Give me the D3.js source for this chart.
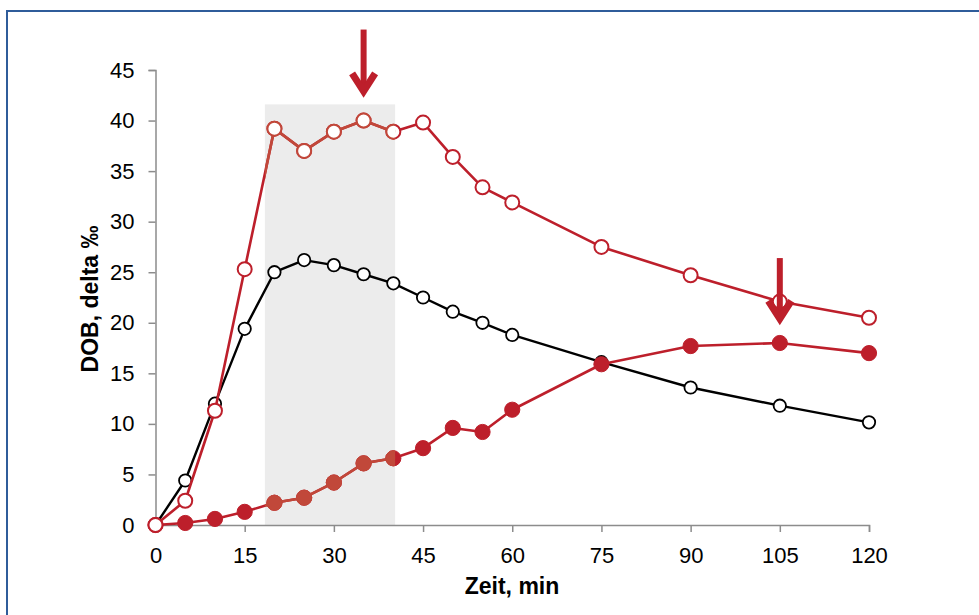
<!DOCTYPE html>
<html>
<head>
<meta charset="utf-8">
<script src="https://cdn.jsdelivr.net/npm/d3@7"></script>
<style>
  html, body { margin: 0; padding: 0; background: #fff; }
  svg { display: block; font-family: "Liberation Sans", Arial, sans-serif; }
</style>
</head>
<body>
<svg id="chart" width="979" height="615"></svg>
<script>
// ---- data ----
const times = [0, 5, 10, 15, 20, 25, 30, 35, 40, 45, 50, 55, 60, 75, 90, 105, 120];
const blackOpen = [0, 4.4, 12.0, 19.4, 25.0, 26.2, 25.7, 24.8, 23.9, 22.5, 21.1, 20.0, 18.8, 16.1, 13.6, 11.8, 10.15];
const redOpen = [0, 2.4, 11.3, 25.3, 39.2, 37.0, 38.9, 40.0, 38.9, 39.8, 36.4, 33.4, 31.9, 27.5, 24.7, 22.1, 20.5];
const redFilled = [0, 0.2, 0.6, 1.3, 2.2, 2.7, 4.2, 6.1, 6.6, 7.6, 9.6, 9.2, 11.4, 15.9, 17.7, 18.0, 17.0];
const xTicks = [0, 15, 30, 45, 60, 75, 90, 105, 120];
const yTicks = [0, 5, 10, 15, 20, 25, 30, 35, 40, 45];
const windowX = [18.4, 40.3];
const windowTop = 41.6;
const arrows = [ {x: 35, y0: 49.0, y1: 42.3}, {x: 105, y0: 26.4, y1: 19.8} ];
const xTitle = "Zeit, min";
const yTitle = "DOB, delta ‰";

// ---- layout ----
const svg = d3.select("#chart");
const RED = "#bd1f2b", RED_W = "#c1483a";

// frame
svg.append("rect").attr("x", 7).attr("y", 11).attr("width", 1100).attr("height", 800)
  .attr("fill", "none").attr("stroke", "#2f5c9a").attr("stroke-width", 2);

const x = d3.scaleLinear().domain([0, 120]).range([155.5, 869]);
const y = d3.scaleLinear().domain([0, 45]).range([525, 70]);

// grey window
svg.append("rect")
  .attr("x", x(windowX[0])).attr("y", y(windowTop))
  .attr("width", x(windowX[1]) - x(windowX[0])).attr("height", y(0) - y(windowTop))
  .attr("fill", "#ececec");

svg.append("clipPath").attr("id", "win").append("rect")
  .attr("x", x(windowX[0])).attr("y", y(windowTop))
  .attr("width", x(windowX[1]) - x(windowX[0])).attr("height", y(0) - y(windowTop) + 10);

// axes
const xAxis = svg.append("g").attr("transform", `translate(0,${y(0)})`)
  .call(d3.axisBottom(x).tickValues(xTicks).tickSize(7).tickPadding(10));
const yAxis = svg.append("g").attr("transform", `translate(${x(0)},0)`)
  .call(d3.axisLeft(y).tickValues(yTicks).tickSize(7).tickPadding(14));
[xAxis, yAxis].forEach(g => {
  g.select(".domain").attr("stroke", "#8c8c8c").attr("stroke-width", 1.5);
  g.selectAll(".tick line").attr("stroke", "#8c8c8c").attr("stroke-width", 1.5);
  g.selectAll(".tick text").attr("fill", "#000").attr("font-size", 22)
    .attr("font-family", "'Liberation Sans', Arial, sans-serif");
});
xAxis.selectAll(".tick text").attr("dy", "0.95em");

// titles
svg.append("text").attr("x", 512).attr("y", 594).attr("text-anchor", "middle")
  .attr("font-weight", "bold").attr("font-size", 23).text(xTitle);
svg.append("text").attr("transform", `translate(98,299) rotate(-90)`)
  .attr("text-anchor", "middle").attr("font-weight", "bold").attr("font-size", 23).text(yTitle);

const line = d3.line().x(d => x(d[0])).y(d => y(d[1]));
const pts = vals => times.map((t, i) => [t, vals[i]]);

function drawSeries(g, vals, color, width, r, filled, sw) {
  const data = pts(vals);
  g.append("path").datum(data).attr("d", line)
    .attr("fill", "none").attr("stroke", color).attr("stroke-width", width).attr("stroke-linejoin", "round");
  g.selectAll("circle.m").data(data).join("circle").attr("class", "m")
    .attr("cx", d => x(d[0])).attr("cy", d => y(d[1])).attr("r", r)
    .attr("fill", filled ? color : "#fff").attr("stroke", color).attr("stroke-width", sw);
}

// black open
drawSeries(svg.append("g"), blackOpen, "#000", 2.4, 6.2, false, 1.8);
// red filled
drawSeries(svg.append("g"), redFilled, RED, 2.6, 7.6, true, 1);
drawSeries(svg.append("g").attr("clip-path", "url(#win)"), redFilled, RED_W, 2.6, 7.6, true, 1);
// red open
drawSeries(svg.append("g"), redOpen, RED, 2.6, 7, false, 2);
drawSeries(svg.append("g").attr("clip-path", "url(#win)"), redOpen, RED_W, 2.6, 7, false, 2);

// arrows
arrows.forEach(a => {
  const xs = x(a.x), yt = y(a.y0), yb = y(a.y1);
  svg.append("line").attr("x1", xs).attr("x2", xs).attr("y1", yt).attr("y2", yb - 6)
    .attr("stroke", RED).attr("stroke-width", 6);
  svg.append("path")
    .attr("d", `M${xs - 11.5},${yb - 24} L${xs},${yb - 6} L${xs + 11.5},${yb - 24}`)
    .attr("fill", "none").attr("stroke", RED).attr("stroke-width", 7)
    .attr("stroke-linejoin", "miter").attr("stroke-miterlimit", 10);
});
</script>
</body>
</html>
